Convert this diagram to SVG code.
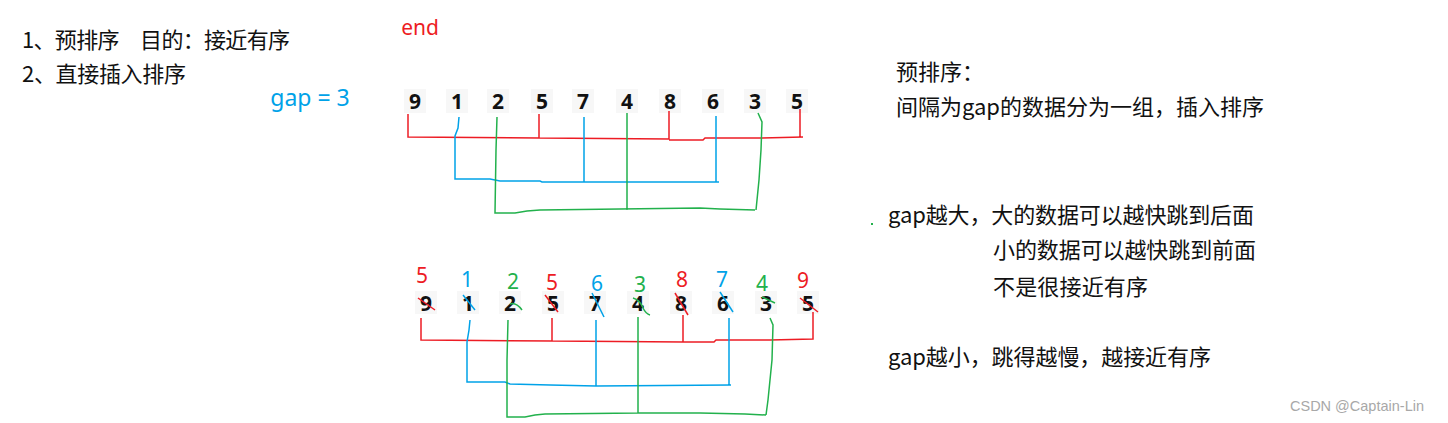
<svg xmlns="http://www.w3.org/2000/svg" width="1448" height="423" viewBox="0 0 1448 423">
<style>
.cn{font-family:"Microsoft YaHei","Noto Sans CJK SC","Noto Sans",sans-serif;font-size:22px;fill:#111}
.dg{font-family:"Noto Sans","Liberation Sans",sans-serif;font-size:21px;font-weight:bold;fill:#111;text-anchor:middle}
.cd{font-family:"Noto Sans","Liberation Sans",sans-serif;font-size:21px;text-anchor:middle}
.bg{fill:#f7f7f7}
.r{stroke:#ED1C24;fill:none;stroke-width:1.5}
.b{stroke:#00A2E8;fill:none;stroke-width:1.5}
.g{stroke:#22B14C;fill:none;stroke-width:1.5}
.rt{fill:#ED1C24}.bt{fill:#00A2E8}.gt{fill:#22B14C}
</style>
<rect width="1448" height="423" fill="#ffffff"/>
<g id="notes-left">
<text class="cn" x="22" y="48" textLength="268" lengthAdjust="spacing">1、预排序　目的：接近有序</text>
<text class="cn" x="22" y="82" textLength="164" lengthAdjust="spacing">2、直接插入排序</text>
<text class="cd rt" x="420" y="35">end</text>
<text class="cd bt" x="310" y="106" style="font-size:23px">gap = 3</text>
</g>
<g id="array-top">
<rect class="bg" x="404" y="89" width="22" height="24"/>
<rect class="bg" x="446" y="89" width="22" height="24"/>
<rect class="bg" x="487" y="89" width="22" height="24"/>
<rect class="bg" x="531" y="89" width="22" height="24"/>
<rect class="bg" x="572" y="89" width="22" height="24"/>
<rect class="bg" x="616" y="89" width="22" height="24"/>
<rect class="bg" x="659" y="89" width="22" height="24"/>
<rect class="bg" x="702" y="89" width="22" height="24"/>
<rect class="bg" x="744" y="89" width="22" height="24"/>
<rect class="bg" x="786" y="89" width="22" height="24"/>
<text class="dg" x="415" y="109">9</text>
<text class="dg" x="457" y="109">1</text>
<text class="dg" x="498" y="109">2</text>
<text class="dg" x="542" y="109">5</text>
<text class="dg" x="583" y="109">7</text>
<text class="dg" x="627" y="109">4</text>
<text class="dg" x="670" y="109">8</text>
<text class="dg" x="713" y="109">6</text>
<text class="dg" x="755" y="109">3</text>
<text class="dg" x="797" y="109">5</text>
</g>
<g id="array-bottom">
<rect class="bg" x="415" y="291" width="22" height="23"/>
<rect class="bg" x="457" y="291" width="22" height="23"/>
<rect class="bg" x="499" y="291" width="22" height="23"/>
<rect class="bg" x="542" y="291" width="22" height="23"/>
<rect class="bg" x="584" y="291" width="22" height="23"/>
<rect class="bg" x="627" y="291" width="22" height="23"/>
<rect class="bg" x="670" y="291" width="22" height="23"/>
<rect class="bg" x="712" y="291" width="22" height="23"/>
<rect class="bg" x="755" y="291" width="22" height="23"/>
<rect class="bg" x="797" y="291" width="22" height="23"/>
<text class="dg" x="426" y="311">9</text>
<text class="dg" x="468" y="311">1</text>
<text class="dg" x="510" y="311">2</text>
<text class="dg" x="553" y="311">5</text>
<text class="dg" x="595" y="311">7</text>
<text class="dg" x="638" y="311">4</text>
<text class="dg" x="681" y="311">8</text>
<text class="dg" x="723" y="311">6</text>
<text class="dg" x="766" y="311">3</text>
<text class="dg" x="808" y="311">5</text>
<text class="cd rt" x="422" y="283">5</text>
<text class="cd bt" x="467" y="287">1</text>
<text class="cd gt" x="513" y="289">2</text>
<text class="cd rt" x="552" y="290">5</text>
<text class="cd bt" x="597" y="291">6</text>
<text class="cd gt" x="640" y="292">3</text>
<text class="cd rt" x="682" y="287">8</text>
<text class="cd bt" x="722" y="287">7</text>
<text class="cd gt" x="762" y="291">4</text>
<text class="cd rt" x="803" y="288">9</text>
</g>
<g id="notes-right">
<text class="cn" x="896" y="80">预排序：</text>
<text class="cn" x="896" y="115" textLength="368" lengthAdjust="spacing">间隔为gap的数据分为一组，插入排序</text>
<text class="cn" x="888" y="223" textLength="366" lengthAdjust="spacing">gap越大，大的数据可以越快跳到后面</text>
<text class="cn" x="993" y="258" textLength="263" lengthAdjust="spacing">小的数据可以越快跳到前面</text>
<text class="cn" x="993" y="295" textLength="155" lengthAdjust="spacing">不是很接近有序</text>
<text class="cn" x="888" y="365" textLength="323" lengthAdjust="spacing">gap越小，跳得越慢，越接近有序</text>
<rect x="871" y="223" width="2" height="2" fill="#22B14C"/>
</g>
<g id="watermark">
<text x="1290" y="411" style="font-family:'Liberation Sans',Arial,sans-serif;font-size:14.5px;fill:#a8a8a8">CSDN @Captain-Lin</text>
</g>
<g id="connectors">
<path class="r" d="M408,114 L408,137 L539,138 L539,114 M539,138 L669,139 L669,111 M669,140 L703,140 L705,138 L760,138 L803,137 M800,137 L800,109"/>
<path class="b" d="M459,117 L458,128 L455,136 L455,179 L490,179 L500,181 L540,181 L542,182 L719,182 M584,117 L584,182 M716,116 L716,182"/>
<path class="g" d="M497,117 L496,150 L495,213 L515,213 L527,211 L540,210 L620,209 L700,208 L720,209 L755,210 M627,113 L627,210 M758,113 L762,122 L761,150 L759,180 L756,210"/>
<path class="r" d="M421,318 L421,340 L552,341 L552,318 M552,341 L683,342 L683,315 M683,342 L714,342 L716,340 L770,340 L813,339 L813,312"/>
<path class="b" d="M470,320 L469,330 L467,342 L467,382 L505,382 L510,384 L550,385 L596,386 L731,385 M596,320 L596,386 M729,318 L729,385"/>
<path class="g" d="M508,320 L507,360 L507,417 L525,417 L535,415 L545,414 L638,413 L700,413 L745,414 L766,415 M638,317 L638,413 M770,318 L773,325 L772,360 L768,400 L766,415"/>
<path class="r" d="M418,298 L435,310"/>
<path class="b" d="M463,295 L475,310"/>
<path class="g" d="M510,304 Q516,302 522,310"/>
<path class="r" d="M545,295 L558,312"/>
<path class="b" d="M592,293 L604,317"/>
<path class="g" d="M633,298 Q640,300 643,308 Q646,314 650,315"/>
<path class="r" d="M675,293 L688,315"/>
<path class="b" d="M720,292 L733,312"/>
<path class="g" d="M762,297 L775,303"/>
<path class="r" d="M800,298 L818,312"/>
</g>
</svg>
